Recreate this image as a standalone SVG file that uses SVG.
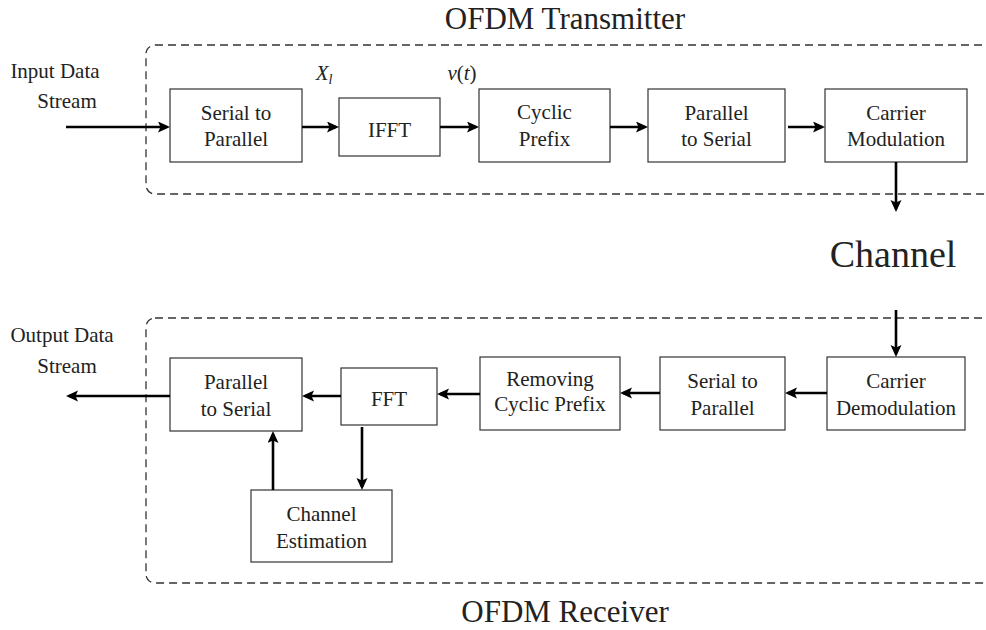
<svg xmlns="http://www.w3.org/2000/svg" width="986" height="630" viewBox="0 0 986 630" font-family="'Liberation Serif', 'DejaVu Serif', 'Times New Roman', Times, serif">
<style>
text{font-family:'Liberation Serif','DejaVu Serif','Times New Roman',Times,serif;fill:#222;text-anchor:middle}
.lbl{font-size:21px}
.title{font-size:31px}
.big{font-size:38px}
.math{font-size:21px;font-style:italic}
.box{fill:#fff;stroke:#333;stroke-width:1.2}
.frame{fill:none;stroke:#333;stroke-width:1.3;stroke-dasharray:8 5}
.conn line{stroke:#000;stroke-width:2.6;marker-end:url(#ah)}
</style>
<defs>
<marker id="ah" markerUnits="userSpaceOnUse" markerWidth="14" markerHeight="12" refX="9" refY="5.5" orient="auto">
<path d="M0,0 L12,5.5 L0,11 L2.5,5.5 z" fill="#000"/>
</marker>
</defs>
<rect width="986" height="630" fill="#fff"/>

<g id="tx-frame">
<rect class="frame" x="146" y="45" width="860" height="149" rx="9"/>
<text class="title" x="565" y="29">OFDM Transmitter</text>
</g>
<g id="rx-frame">
<rect class="frame" x="146" y="318" width="860" height="265" rx="9"/>
<text class="title" x="565" y="622">OFDM Receiver</text>
</g>

<g id="input-label">
<text class="lbl" x="55" y="78">Input Data</text>
<text class="lbl" x="67" y="108">Stream</text>
</g>
<g id="output-label">
<text class="lbl" x="62" y="342">Output Data</text>
<text class="lbl" x="67" y="373">Stream</text>
</g>
<g id="channel-label">
<text class="big" x="893" y="267">Channel</text>
</g>
<g id="math-labels">
<text class="math" x="324" y="80">X<tspan font-size="14" dy="4">l</tspan></text>
<text class="math" x="462" y="80">v<tspan font-style="normal">(</tspan>t<tspan font-style="normal">)</tspan></text>
</g>

<g id="tx-s2p">
<rect class="box" x="170" y="89" width="132" height="73"/>
<text class="lbl" x="236" y="120">Serial to</text>
<text class="lbl" x="236" y="146">Parallel</text>
</g>
<g id="tx-ifft">
<rect class="box" x="339" y="98" width="101" height="58"/>
<text class="lbl" x="389.5" y="137">IFFT</text>
</g>
<g id="tx-cp">
<rect class="box" x="479" y="89" width="131" height="73"/>
<text class="lbl" x="544.5" y="119">Cyclic</text>
<text class="lbl" x="544.5" y="146">Prefix</text>
</g>
<g id="tx-p2s">
<rect class="box" x="648" y="89" width="137" height="73"/>
<text class="lbl" x="716.5" y="120">Parallel</text>
<text class="lbl" x="716.5" y="146">to Serial</text>
</g>
<g id="tx-mod">
<rect class="box" x="825" y="89" width="142" height="73"/>
<text class="lbl" x="896" y="120">Carrier</text>
<text class="lbl" x="896" y="146">Modulation</text>
</g>

<g id="rx-demod">
<rect class="box" x="827" y="357" width="138" height="73"/>
<text class="lbl" x="896" y="388">Carrier</text>
<text class="lbl" x="896" y="415">Demodulation</text>
</g>
<g id="rx-s2p">
<rect class="box" x="660" y="357" width="125" height="73"/>
<text class="lbl" x="722.5" y="388">Serial to</text>
<text class="lbl" x="722.5" y="415">Parallel</text>
</g>
<g id="rx-rcp">
<rect class="box" x="480" y="357" width="140" height="73"/>
<text class="lbl" x="550" y="386">Removing</text>
<text class="lbl" x="550" y="411">Cyclic Prefix</text>
</g>
<g id="rx-fft">
<rect class="box" x="341" y="368" width="96" height="57"/>
<text class="lbl" x="389" y="406">FFT</text>
</g>
<g id="rx-p2s">
<rect class="box" x="170" y="358" width="132" height="73"/>
<text class="lbl" x="236" y="389">Parallel</text>
<text class="lbl" x="236" y="416">to Serial</text>
</g>
<g id="rx-ce">
<rect class="box" x="251" y="490" width="141" height="72"/>
<text class="lbl" x="321.5" y="521">Channel</text>
<text class="lbl" x="321.5" y="548">Estimation</text>
</g>

<g id="connectors" class="conn">
<line x1="66" y1="127" x2="167" y2="127"/>
<line x1="302" y1="127" x2="336" y2="127"/>
<line x1="440" y1="127" x2="476" y2="127"/>
<line x1="610" y1="127" x2="645" y2="127"/>
<line x1="788" y1="127" x2="822" y2="127"/>
<line x1="896" y1="162" x2="896" y2="209"/>
<line x1="896" y1="310" x2="896" y2="354"/>
<line x1="827" y1="393" x2="788" y2="393"/>
<line x1="660" y1="393" x2="623" y2="393"/>
<line x1="480" y1="394" x2="440" y2="394"/>
<line x1="341" y1="396" x2="305" y2="396"/>
<line x1="170" y1="396" x2="69" y2="396"/>
<line x1="362" y1="427" x2="362" y2="487"/>
<line x1="273" y1="490" x2="273" y2="434"/>
</g>
</svg>
